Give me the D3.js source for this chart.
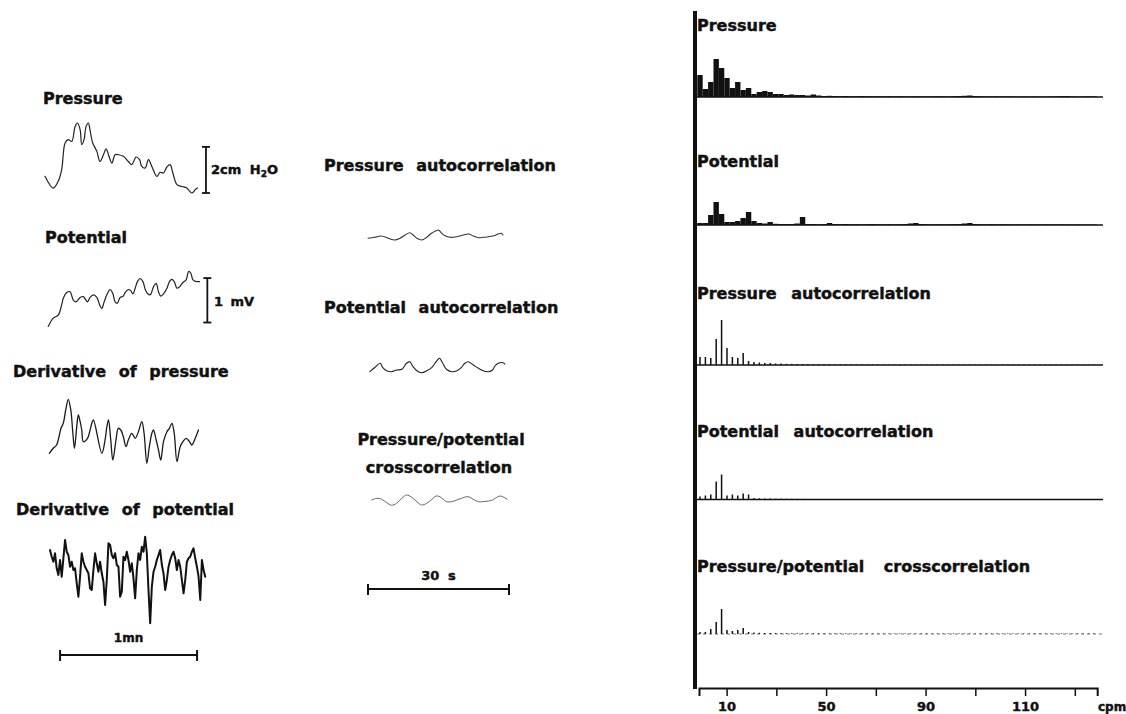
<!DOCTYPE html>
<html><head><meta charset="utf-8">
<script src="https://cdn.jsdelivr.net/npm/d3@7"></script>
<style>
body{margin:0;background:#fff;}
svg{display:block;background:#fff;}
text{font-family:"DejaVu Sans",sans-serif;font-weight:bold;fill:#111;stroke:#111;stroke-width:0.45px;}
</style></head><body>
<svg id="c" width="1126" height="714"></svg>
<script>
// ---------------- DATA ----------------
// Raw traces: [time (s), value]
const pressureTrace = [[0,0.74],[3.6,0.22],[5.8,0.52],[7.3,1.04],[8.8,2.22],[10.2,2.37],[11.7,2.29],[13.2,2.96],[14.2,3.11],[15.4,2.81],[16.1,2.15],[17.1,2.37],[18.0,2.96],[19.0,3.11],[19.7,2.81],[20.9,2.22],[22.7,1.85],[24.1,1.40],[25.6,1.70],[26.8,1.96],[27.8,1.70],[29.3,1.33],[30.7,1.70],[32.1,1.70],[34.3,1.63],[36.5,1.40],[38.0,1.26],[39.9,1.60],[41.4,1.48],[42.4,1.18],[43.9,1.11],[45.3,1.48],[46.8,1.18],[49.0,0.74],[50.4,0.92],[51.9,0.89],[53.4,1.16],[54.8,1.26],[56.0,0.89],[57.8,0.37],[60.0,0.29],[62.1,0.22],[64.3,0.00],[65.8,0.15],[66.8,0.22]]; // cm H2O
const potentialTrace = [[1.4,0.08],[3.6,0.27],[5.8,0.34],[7.3,0.57],[8.0,0.72],[9.5,0.85],[11.0,0.87],[12.4,0.68],[13.6,0.64],[15.4,0.74],[16.8,0.76],[18.6,0.64],[19.7,0.74],[21.2,0.80],[22.7,0.74],[24.1,0.55],[24.9,0.49],[25.9,0.64],[27.1,0.80],[28.5,0.92],[29.7,0.83],[30.7,0.64],[31.7,0.61],[32.9,0.74],[34.1,0.76],[35.1,0.85],[36.5,0.92],[37.6,0.89],[38.5,0.82],[39.5,0.95],[40.5,1.10],[41.7,1.17],[42.9,1.10],[43.9,0.92],[44.9,0.83],[46.1,0.80],[47.5,0.98],[48.7,1.06],[49.7,0.87],[50.7,0.77],[51.9,0.82],[53.4,0.95],[54.5,1.10],[55.6,1.15],[56.6,1.10],[57.8,0.95],[58.9,0.98],[60.4,1.08],[61.8,1.14],[62.9,1.33],[63.9,1.29],[64.8,1.14],[66.5,1.10],[67.7,1.10]]; // mV
const dPressureTrace = [[1.9,1.17],[3.6,1.67],[5.1,2.0],[6.3,3.0],[7.0,3.67],[8.0,4.17],[9.2,5.67],[10.2,6.57],[11.3,5.5],[12.2,3.17],[12.9,1.67],[13.9,3.83],[14.6,5.0],[15.4,4.33],[16.1,3.5],[16.8,2.33],[18.6,2.67],[19.4,3.17],[20.5,4.17],[21.2,4.5],[24.9,1.17],[26.3,2.5],[27.1,3.83],[27.8,4.5],[28.8,2.5],[29.7,0.5],[31.1,2.5],[32.1,3.67],[33.2,3.5],[34.3,2.83],[35.5,1.83],[36.5,2.5],[38.0,3.17],[39.5,2.67],[40.9,3.33],[42.4,4.33],[43.4,3.17],[44.6,0.17],[45.7,1.83],[46.8,3.17],[47.5,3.5],[48.7,2.5],[49.7,1.5],[50.7,0.5],[51.9,2.33],[53.4,3.33],[54.5,3.67],[55.6,4.17],[56.6,3.17],[57.8,0.33],[59.2,1.83],[60.4,2.33],[61.8,2.67],[63.3,2.33],[64.3,2.0],[65.8,2.67],[67.2,3.5]]; // arbitrary units
const dPotentialStart = 2.2, dPotentialStep = 0.731; // s
const dPotentialValues = [8.0,7.33,6.83,7.67,6.17,5.5,7.0,5.33,7.17,9.0,7.83,7.5,6.33,6.83,6.0,6.17,4.67,3.33,5.33,7.67,6.83,6.33,6.0,5.67,4.17,4.0,6.0,7.67,6.67,5.83,6.83,5.67,4.83,2.5,5.0,8.67,8.5,7.5,7.17,7.67,6.5,6.33,3.33,3.83,7.33,7.0,7.83,7.0,5.83,6.67,5.17,3.17,6.0,7.67,7.0,8.33,7.83,9.33,7.67,4.0,0.67,4.33,5.83,6.33,7.0,7.5,8.0,6.5,5.67,4.0,5.0,6.33,7.0,7.5,7.83,7.17,6.0,7.0,6.33,5.0,3.67,5.0,6.83,7.17,7.33,7.83,8.17,7.17,6.33,5.33,3.0,7.0,6.0,5.33];

// Correlation functions: [lag (s), relative value]
const pressureAuto = [[0,-0.16],[1.4,-0.04],[2.8,0.12],[4.3,-0.16],[5.7,-0.375],[6.8,-0.16],[7.9,0.25],[8.9,0.54],[9.6,0.25],[10.4,-0.16],[11.4,-0.375],[12.5,-0.04],[13.5,0.46],[14.5,0.79],[15.0,0.875],[15.7,0.46],[16.4,0.16],[17.4,-0.04],[18.9,0.04],[20.3,0.25],[21.4,0.375],[22.4,0.125],[23.5,-0.09],[24.5,-0.04],[25.6,0.04],[26.6,0.125],[27.7,0.375],[28.4,0.46],[28.7,0.25]];
const potentialAuto = [[0.4,-0.46],[1.5,0.09],[2.6,0.59],[3.1,0.09],[4.0,-0.34],[5.0,-0.46],[6.1,-0.25],[7.2,-0.16],[8.2,0.59],[8.9,0.79],[9.5,0.25],[10.4,-0.34],[11.4,-0.59],[12.5,-0.34],[13.6,0.09],[14.5,0.79],[15.2,1.21],[15.9,0.59],[16.7,-0.16],[17.8,-0.46],[18.9,-0.34],[19.9,0.09],[20.6,0.59],[21.3,0.79],[22.4,0.375],[23.5,-0.04],[24.5,-0.34],[25.6,-0.46],[26.5,-0.25],[27.0,0.25],[27.7,0.59],[28.7,0.66],[29.1,0.5]];
const crossCorr = [[0.8,0],[1.9,0.21],[2.9,0.09],[4.0,-0.34],[5.0,-0.66],[6.1,-0.41],[7.2,0.21],[8.2,0.625],[9.3,0.34],[10.4,-0.21],[11.4,-0.625],[12.5,-0.41],[13.6,0.09],[14.5,0.5],[15.3,0.41],[16.0,0.09],[16.7,-0.21],[17.8,-0.21],[18.9,0],[19.9,0.21],[20.9,0.41],[21.7,0.34],[22.6,0],[23.5,-0.21],[24.5,-0.21],[25.6,-0.125],[26.5,0],[27.4,0.34],[28.2,0.5],[28.9,0.34],[29.6,0.09]];

// Spectra: amplitude per frequency bin (cpm = freqStart + k*freqStep)
const freqStart = -0.7, freqStep = 2.17;
const pressureSpectrum = [22,8,15,38,29,19,9,15,7,9, 3,5,6,5,3,3,2,2.5,2,2, 1.5,2.5,1.5,1,1.2,1,0.8,1,0.8,0.8, 1,0.8,0.7,0.8,0.7,0.8,0.7,0.8,0.7,0.6, 0.8,0.7,0.6,0.7,0.8,0.7,0.6,0.8,1,1.2, 1.5,1,0.8,0.7,0.6,0.7,0.6,0.7,0.6,0.5, 0.6,0.5,0.6,0.5,0.5,0.6,0.7,0.9,1,0.6, 0.5,0.6,0.7,0.6];
const potentialSpectrum = [2,2,10,23,11,3,3,4,7,13, 4,2,1.5,3,1.2,1,1,1,1.5,8, 1,1,0.8,1,2,1,0.8,1,0.8,0.8, 0.7,0.8,1,0.8,0.7,0.8,0.7,0.8,1,1.5, 2,1,0.8,0.7,0.8,0.7,0.8,0.9,1,1.5, 2,1,0.8,0.7,0.8,0.7,0.8,0.7,0.6,0.7, 0.6,0.7,0.6,0.6,0.7,0.6,0.6,0.7,0.6,0.5, 0.6,0.5,0.5,0.5];
const pressureAutoSpectrum = [8,8,7,26,45,17,8,7,12,4, 3,2.5,2,2,1.5,1.5,1.2,1.2,1,1, 1,0.8,0.8,0.8,0.7,0.7,0.7,0.6,0.6,0.6, 0.6,0.5,0.5,0.5,0.5,0.5,0.5,0.5,0.5,0.5, 0.4,0.4,0.4,0.4,0.4,0.4,0.4,0.4,0.4,0.4, 0.4,0.4,0.4,0.4,0.4,0.4,0.4,0.4,0.4,0.4, 0.4,0.4,0.4,0.4,0.4,0.4,0.4,0.4,0.4,0.4, 0.4,0.4,0.4,0.4];
const potentialAutoSpectrum = [3,4,5,18,25,4,5,4,6,5, 1.5,1.2,1,1,0.8,0.8,0.7,0.7,0.6,0.6, 0.5,0.5,0.5,0.5,0.5,0.5,0.5,0.5,0.5,0.5, 0.4,0.4,0.4,0.4,0.4,0.4,0.4,0.4,0.4,0.4, 0.4,0.4,0.4,0.4,0.4,0.4,0.4,0.4,0.4,0.4, 0.4,0.4,0.4,0.4,0.4,0.4,0.4,0.4,0.4,0.4, 0.4,0.4,0.4,0.4,0.4,0.4,0.4,0.4,0.4,0.4, 0.4,0.4,0.4,0.4];
const crossSpectrum = [2,2,5,12,25,4,3,4,6,2, 1.5,1.2,1,1,0.8,0.8,0.8,0.7,0.7,0.7, 0.6,0.6,0.6,0.6,0.6,0.6,0.6,0.6,0.6,0.6, 0.5,0.5,0.5,0.5,0.5,0.5,0.5,0.5,0.5,0.5, 0.5,0.5,0.5,0.5,0.5,0.5,0.5,0.5,0.5,0.5, 0.5,0.5,0.5,0.5,0.5,0.5,0.5,0.5,0.5,0.5, 0.5,0.5,0.5,0.5,0.5,0.5,0.5,0.5,0.5,0.5, 0.5,0.5,0.5,0.5];

const freqTicks = [10,30,50,70,90,110,130,150];
const freqTickLabels = ["10","","50","","90","","110",""];

// ---------------- DRAW ----------------
const svg = d3.select("#c");
const ink = "#111";

function addText(x, y, str, size, opts = {}) {
  const t = svg.append("text").attr("x", x).attr("y", y).attr("font-size", size)
    .attr("word-spacing", opts.ws == null ? 7 : opts.ws)
    .attr("text-anchor", opts.anchor || "start").text(str);
  return t;
}
function drawLine(data, xs, ys, color, width, curve) {
  svg.append("path").datum(data)
    .attr("d", d3.line().x(d => xs(d[0])).y(d => ys(d[1])).curve(curve || d3.curveCatmullRom.alpha(0.5)))
    .attr("fill", "none").attr("stroke", color).attr("stroke-width", width)
    .attr("stroke-linejoin", "round").attr("stroke-linecap", "round");
}
function vBar(x, y0, y1) {
  const g = svg.append("g").attr("stroke", ink).attr("stroke-width", 1.8);
  g.append("line").attr("x1", x).attr("x2", x).attr("y1", y0).attr("y2", y1);
  g.append("line").attr("x1", x - 4).attr("x2", x + 4).attr("y1", y0).attr("y2", y0);
  g.append("line").attr("x1", x - 4).attr("x2", x + 4).attr("y1", y1).attr("y2", y1);
}
function hBar(x0, x1, y) {
  const g = svg.append("g").attr("stroke", ink).attr("stroke-width", 2);
  g.append("line").attr("x1", x0).attr("x2", x1).attr("y1", y).attr("y2", y);
  g.append("line").attr("x1", x0).attr("x2", x0).attr("y1", y - 5).attr("y2", y + 6);
  g.append("line").attr("x1", x1).attr("x2", x1).attr("y1", y - 5).attr("y2", y + 6);
}

// ---- Left column: raw traces ----
const tScale = d3.scaleLinear().domain([0, 60]).range([45, 182]);
const pY = d3.scaleLinear().domain([0, 2]).range([193, 148]);
const vY = d3.scaleLinear().domain([0, 1]).range([330, 286]);
const dpY = d3.scaleLinear().domain([0, 1]).range([465, 455]);
const dvY = d3.scaleLinear().domain([0, 1]).range([630, 620]);

addText(43, 104, "Pressure", 16);
drawLine(pressureTrace, tScale, pY, "#222", 1.2);
vBar(tScale(70.5), pY(2.05), pY(0.0));
const h2o = addText(211, 174, "2cm H", 13, {ws: 4});
h2o.append("tspan").attr("font-size", 9).attr("dy", 3).text("2");
h2o.append("tspan").attr("dy", -3).text("O");

addText(45, 243, "Potential", 16);
drawLine(potentialTrace, tScale, vY, "#222", 1.2);
vBar(tScale(71.1), vY(1.18), vY(0.17));
addText(214, 306, "1 mV", 13, {ws: 3});

addText(13, 377, "Derivative of pressure", 16);
drawLine(dPressureTrace, tScale, dpY, "#1a1a1a", 1.3);

addText(16, 515, "Derivative of potential", 16);
const dPotentialTrace = dPotentialValues.map((v, i) => [dPotentialStart + i * dPotentialStep, v]);
drawLine(dPotentialTrace, tScale, dvY, "#111", 2.0, d3.curveLinear);

hBar(tScale(6.6), tScale(66.6), 655);
addText((tScale(6.6) + tScale(66.6)) / 2, 642, "1mn", 12, {anchor: "middle"});

// ---- Middle column: correlation functions ----
const lagScale = d3.scaleLinear().domain([0, 30]).range([368, 509]);
const paY = d3.scaleLinear().domain([0, 1]).range([237, 229]);
const vaY = d3.scaleLinear().domain([0, 1]).range([368, 360]);
const ccY = d3.scaleLinear().domain([0, 1]).range([500, 492]);

addText(324, 171, "Pressure autocorrelation", 16);
drawLine(pressureAuto, lagScale, paY, "#333", 1.1);
addText(324, 313, "Potential autocorrelation", 16);
drawLine(potentialAuto, lagScale, vaY, "#222", 1.1);
addText(441, 445, "Pressure/potential", 16, {anchor: "middle"});
addText(439, 473, "crosscorrelation", 16, {anchor: "middle"});
drawLine(crossCorr, lagScale, ccY, "#666", 1.0);

hBar(lagScale(0), lagScale(30), 589);
addText((lagScale(0) + lagScale(30)) / 2, 580, "30 s", 13, {anchor: "middle", ws: 4});

// ---- Right column: spectra ----
const fScale = d3.scaleLinear().domain([-1.1, 159]).range([699, 1097.2]);
const ampH = d3.scaleLinear().domain([0, 50]).range([0, 50]);
const binW = fScale(freqStep) - fScale(0);

svg.append("line").attr("x1", 695).attr("x2", 695).attr("y1", 11).attr("y2", 689)
  .attr("stroke", ink).attr("stroke-width", 4);

const spectra = [
  {title: "Pressure", values: pressureSpectrum, base: 97, ty: 31, filled: true, ws: 7},
  {title: "Potential", values: potentialSpectrum, base: 225, ty: 167, filled: true, ws: 7},
  {title: "Pressure autocorrelation", values: pressureAutoSpectrum, base: 365, ty: 299, filled: false, ws: 9},
  {title: "Potential autocorrelation", values: potentialAutoSpectrum, base: 499.5, ty: 437, filled: false, ws: 9},
  {title: "Pressure/potential crosscorrelation", values: crossSpectrum, base: 634, ty: 572, filled: false, ws: 14, faint: true}
];

spectra.forEach(s => {
  addText(697, s.ty, s.title, 16, {ws: s.ws});
  svg.append("line").attr("x1", 697).attr("x2", 1103).attr("y1", s.base).attr("y2", s.base)
    .attr("stroke", s.faint ? "#777" : ink).attr("stroke-width", s.faint ? 1 : 1.5)
    .attr("stroke-dasharray", s.faint ? "3,3" : null);
  const g = svg.append("g").attr("fill", ink);
  g.selectAll("rect").data(s.values).join("rect")
    .attr("x", (d, k) => fScale(freqStart + k * freqStep) - (s.filled ? binW / 2 : 0.75))
    .attr("width", s.filled ? binW : 1.5)
    .attr("y", d => s.base - ampH(d))
    .attr("height", d => ampH(d));
});

const axis = d3.axisBottom(fScale).tickValues(freqTicks)
  .tickFormat((d, i) => freqTickLabels[i]).tickSize(8).tickSizeOuter(8).tickPadding(6);
const ax = svg.append("g").attr("transform", "translate(0,688)").call(axis);
ax.select(".domain").attr("stroke", ink).attr("stroke-width", 2);
ax.selectAll(".tick line").attr("stroke", ink).attr("stroke-width", 1.5);
ax.selectAll(".tick text").attr("font-size", 13).attr("font-family", "DejaVu Sans").attr("font-weight", "bold").attr("fill", ink).attr("stroke", ink).attr("stroke-width", 0.45);
addText(1098, 711, "cpm", 12);
</script>
</body></html>
